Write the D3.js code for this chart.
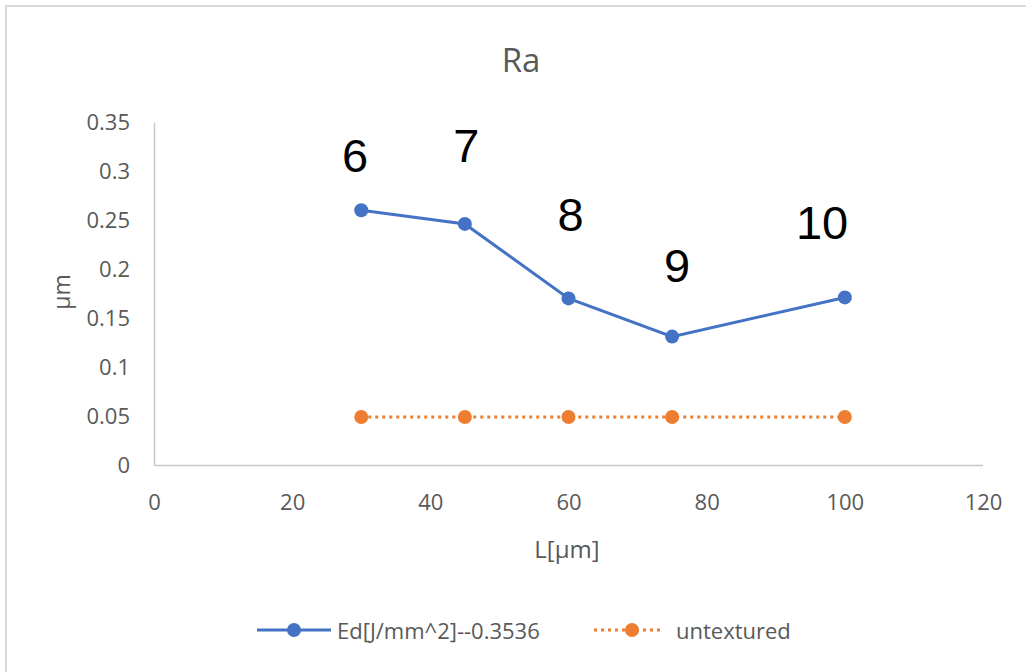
<!DOCTYPE html>
<html><head><meta charset="utf-8">
<script src="https://cdn.jsdelivr.net/npm/d3@7"></script>
<style>
html,body{margin:0;padding:0;background:#fff;}
svg{display:block;}
</style></head>
<body>
<script>
const xValues = [30, 45, 60, 75, 100];
const edValues = [0.26, 0.246, 0.17, 0.131, 0.171];
const untexturedValues = [0.049, 0.049, 0.049, 0.049, 0.049];
const pointLabels = ["6", "7", "8", "9", "10"];
const labelX = [29.1, 45.2, 60.3, 75.7, 96.7];
const labelY = [0.299, 0.309, 0.239, 0.187, 0.231];
const xTicks = [0, 20, 40, 60, 80, 100, 120];
const yTicks = [0, 0.05, 0.1, 0.15, 0.2, 0.25, 0.3, 0.35];
const seriesNames = ["Ed[J/mm^2]--0.3536", "untextured"];
const title = "Ra";
const xTitle = "L[µm]";
const yTitle = "µm";

const W = 1026, H = 672;
const blue = "#4472C4", orange = "#ED7D31", grey = "#595959", axisCol = "#c8c8c8";
const fontUI = "'Open Sans', 'Noto Sans', sans-serif";

const svg = d3.select("body").append("svg").attr("width", W).attr("height", H);
svg.append("rect").attr("width", W).attr("height", H).attr("fill", "#fff");
svg.append("rect").attr("x", 6).attr("y", 6).attr("width", W + 20).attr("height", H + 20)
  .attr("fill", "none").attr("stroke", "#d9d9d9").attr("stroke-width", 2);

const x = d3.scaleLinear().domain([0, 120]).range([154, 983]);
const y = d3.scaleLinear().domain([0, 0.35]).range([465, 122]);

// axes
const xAxis = svg.append("g").attr("transform", `translate(0,${y(0)})`)
  .call(d3.axisBottom(x).tickValues(xTicks).tickSize(0).tickPadding(29).tickFormat(d3.format("d")));
const yAxis = svg.append("g").attr("transform", `translate(${x(0)},0)`)
  .call(d3.axisLeft(y).tickValues(yTicks).tickSize(0).tickPadding(24).tickFormat(d => d === 0 ? "0" : String(d)));
[xAxis, yAxis].forEach(g => {
  g.select(".domain").attr("stroke", axisCol).attr("stroke-width", 1.5);
  g.selectAll("text").attr("fill", grey).attr("font-family", fontUI).attr("font-size", 22)
    .attr("transform", "scale(1,1)");
});
xAxis.select(".domain").attr("d", `M${x(0)},0.5H${x(120)}`);

// titles
svg.append("text").attr("x", 521).attr("y", 72).attr("text-anchor", "middle")
  .attr("font-family", fontUI).attr("font-size", 33).attr("fill", grey).text(title);
svg.append("text").attr("x", 567).attr("y", 558).attr("text-anchor", "middle")
  .attr("font-family", fontUI).attr("font-size", 24).attr("fill", grey).text(xTitle);
svg.append("text").attr("transform", "translate(70,292) rotate(-90)").attr("text-anchor", "middle")
  .attr("font-family", fontUI).attr("font-size", 23).attr("fill", grey).text(yTitle);

// series
const line = d3.line().x(d => x(d[0])).y(d => y(d[1]));
const edData = xValues.map((v, i) => [v, edValues[i]]);
const unData = xValues.map((v, i) => [v, untexturedValues[i]]);

svg.append("path").datum(unData).attr("d", line).attr("fill", "none")
  .attr("stroke", orange).attr("stroke-width", 3).attr("stroke-dasharray", "3,4");
svg.append("g").selectAll("circle").data(unData).join("circle")
  .attr("cx", d => x(d[0])).attr("cy", d => y(d[1])).attr("r", 7).attr("fill", orange);

svg.append("path").datum(edData).attr("d", line).attr("fill", "none")
  .attr("stroke", blue).attr("stroke-width", 3);
svg.append("g").selectAll("circle").data(edData).join("circle")
  .attr("cx", d => x(d[0])).attr("cy", d => y(d[1])).attr("r", 7).attr("fill", blue);

// point labels
svg.append("g").selectAll("text").data(pointLabels).join("text")
  .attr("x", (d, i) => x(labelX[i])).attr("y", (d, i) => y(labelY[i]))
  .attr("text-anchor", "middle").attr("font-family", "'Liberation Sans', Arial, sans-serif")
  .attr("font-size", 47).attr("fill", "#000").text(d => d);

// legend
const lg = svg.append("g");
lg.append("line").attr("x1", 257).attr("x2", 331).attr("y1", 630).attr("y2", 630)
  .attr("stroke", blue).attr("stroke-width", 3);
lg.append("circle").attr("cx", 294).attr("cy", 630).attr("r", 7).attr("fill", blue);
lg.append("text").attr("x", 337).attr("y", 639).attr("font-family", fontUI)
  .attr("font-size", 22).attr("fill", grey).text(seriesNames[0]);
lg.append("line").attr("x1", 594).attr("x2", 664).attr("y1", 630).attr("y2", 630)
  .attr("stroke", orange).attr("stroke-width", 3).attr("stroke-dasharray", "3,4");
lg.append("circle").attr("cx", 632).attr("cy", 630).attr("r", 7).attr("fill", orange);
lg.append("text").attr("x", 676).attr("y", 639).attr("font-family", fontUI)
  .attr("font-size", 22).attr("fill", grey).text(seriesNames[1]);
</script>
</body></html>
